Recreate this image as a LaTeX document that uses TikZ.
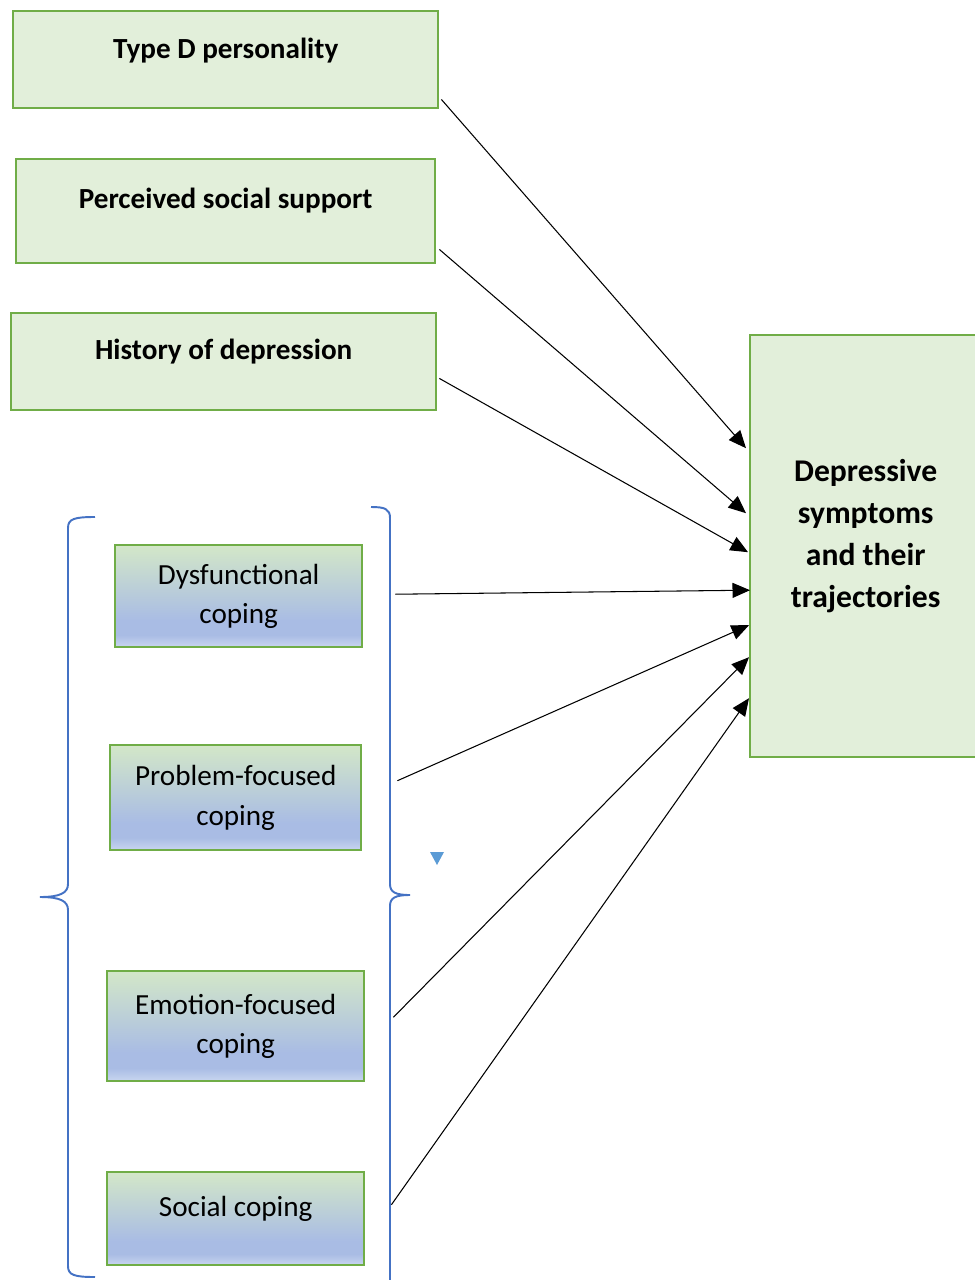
\documentclass[tikz,border=0pt]{standalone}
\usepackage{fontspec}
\setmainfont{Carlito}
\usetikzlibrary{arrows.meta, positioning, calc}

\definecolor{boxgreen}{HTML}{E2EFDA}
\definecolor{linegreen}{HTML}{70AD47}
\definecolor{bracketblue}{HTML}{4472C4}
\definecolor{markblue}{HTML}{5B9BD5}
\definecolor{copelow}{HTML}{C9D6F0}
\definecolor{copeblue}{HTML}{A9BCE4}
\definecolor{copetop}{HTML}{D3E7C8}

\pgfdeclareverticalshading{copingfill}{100bp}{color(0bp)=(copelow); color(25bp)=(copelow);
  color(31bp)=(copeblue); color(38bp)=(copeblue); color(75bp)=(copetop); color(100bp)=(copetop)}

\begin{document}
\begin{tikzpicture}[
    x=0.02cm, y=-0.02cm,
    factor/.style = {rectangle, draw=linegreen, line width=1.4pt, fill=boxgreen, anchor=north west,
        inner ysep=0pt, font=\fontsize{16.6pt}{20pt}\selectfont\bfseries},
    coping/.style = {rectangle, draw=linegreen, line width=1.4pt, shading=copingfill, anchor=north west,
        align=center, font=\fontsize{16.6pt}{22.4pt}\selectfont},
    outcome/.style = {rectangle, draw=linegreen, line width=1.4pt, fill=boxgreen, anchor=north west,
        minimum width=4.62cm, minimum height=8.44cm},
    outtext/.style = {align=center, font=\fontsize{18pt}{23.9pt}\selectfont\bfseries},
    bracket/.style = {draw=bracketblue, line width=1.1pt},
    arrow/.style = {-{Triangle[length=0.35cm, width=0.3cm]}, line width=0.6pt}
]
\useasboundingbox (0,0) rectangle (974,1280);

% Define nodes
\node[factor, minimum width=8.5cm, text height=0.94cm, text depth=1.0cm] (typed) at (12,10) {Type D personality};
\node[factor, minimum width=8.38cm, text height=0.98cm, text depth=1.10cm] (support) at (15,158) {Perceived social support};
\node[factor, minimum width=8.5cm, text height=0.92cm, text depth=1.02cm] (history) at (10,312) {History of depression};

\node[coping, minimum width=4.94cm, minimum height=2.04cm] (dysf) at (114,544) {Dysfunctional\\coping};
\node[coping, minimum width=5.02cm, minimum height=2.1cm] (problem) at (109,744) {Problem-focused\\coping};
\node[coping, minimum width=5.14cm, minimum height=2.2cm] (emotion) at (106,970) {Emotion-focused\\coping};
\node[coping, minimum width=5.14cm, minimum height=1.86cm, text depth=0.5cm] (social) at (106,1171) {Social coping};

\node[outcome] (dep) at (749,334) {};
\node[outtext] (deptxt) at ($(dep.center)+(0,-10)$) {Depressive\\symptoms\\and their\\trajectories};

% Brackets round the coping styles
\draw[bracket] (95,517) .. controls (74,517) and (68,519) .. (68,528) -- (68,884)
    .. controls (68,893) and (60,897) .. (40,897)
    .. controls (60,897) and (68,901) .. (68,910) -- (68,1266)
    .. controls (68,1275) and (74,1277) .. (95,1277);
\draw[bracket] (371,507) .. controls (385,507) and (390,509) .. (390,518) -- (390,884)
    .. controls (390,892) and (395,895) .. (410,895)
    .. controls (395,895) and (390,898) .. (390,906) -- (390,1280);
\fill[markblue] (430,852) -- (444,852) -- (437,865) -- cycle;

% Draw arrows
\draw[arrow] ($(typed.south east)+(2,-10)$) -- ($(dep.west)+(-3,-98)$);
\draw[arrow] ($(support.south east)+(3,-15)$) -- ($(dep.west)+(-3,-33)$);
\draw[arrow] ($(history.south east)+(2,-33)$) -- ($(dep.west)+(-1,6)$);
\draw[arrow] ($(dysf.east)+(32,-2)$) -- ($(dep.west)+(1,44)$);
\draw[arrow] ($(problem.east)+(35,-17)$) -- ($(dep.west)+(0,79)$);
\draw[arrow] ($(emotion.east)+(28,-9)$) -- ($(dep.west)+(0,111)$);
\draw[arrow] ($(social.east)+(26,-14)$) -- ($(dep.west)+(0,152)$);

\end{tikzpicture}
\end{document}
